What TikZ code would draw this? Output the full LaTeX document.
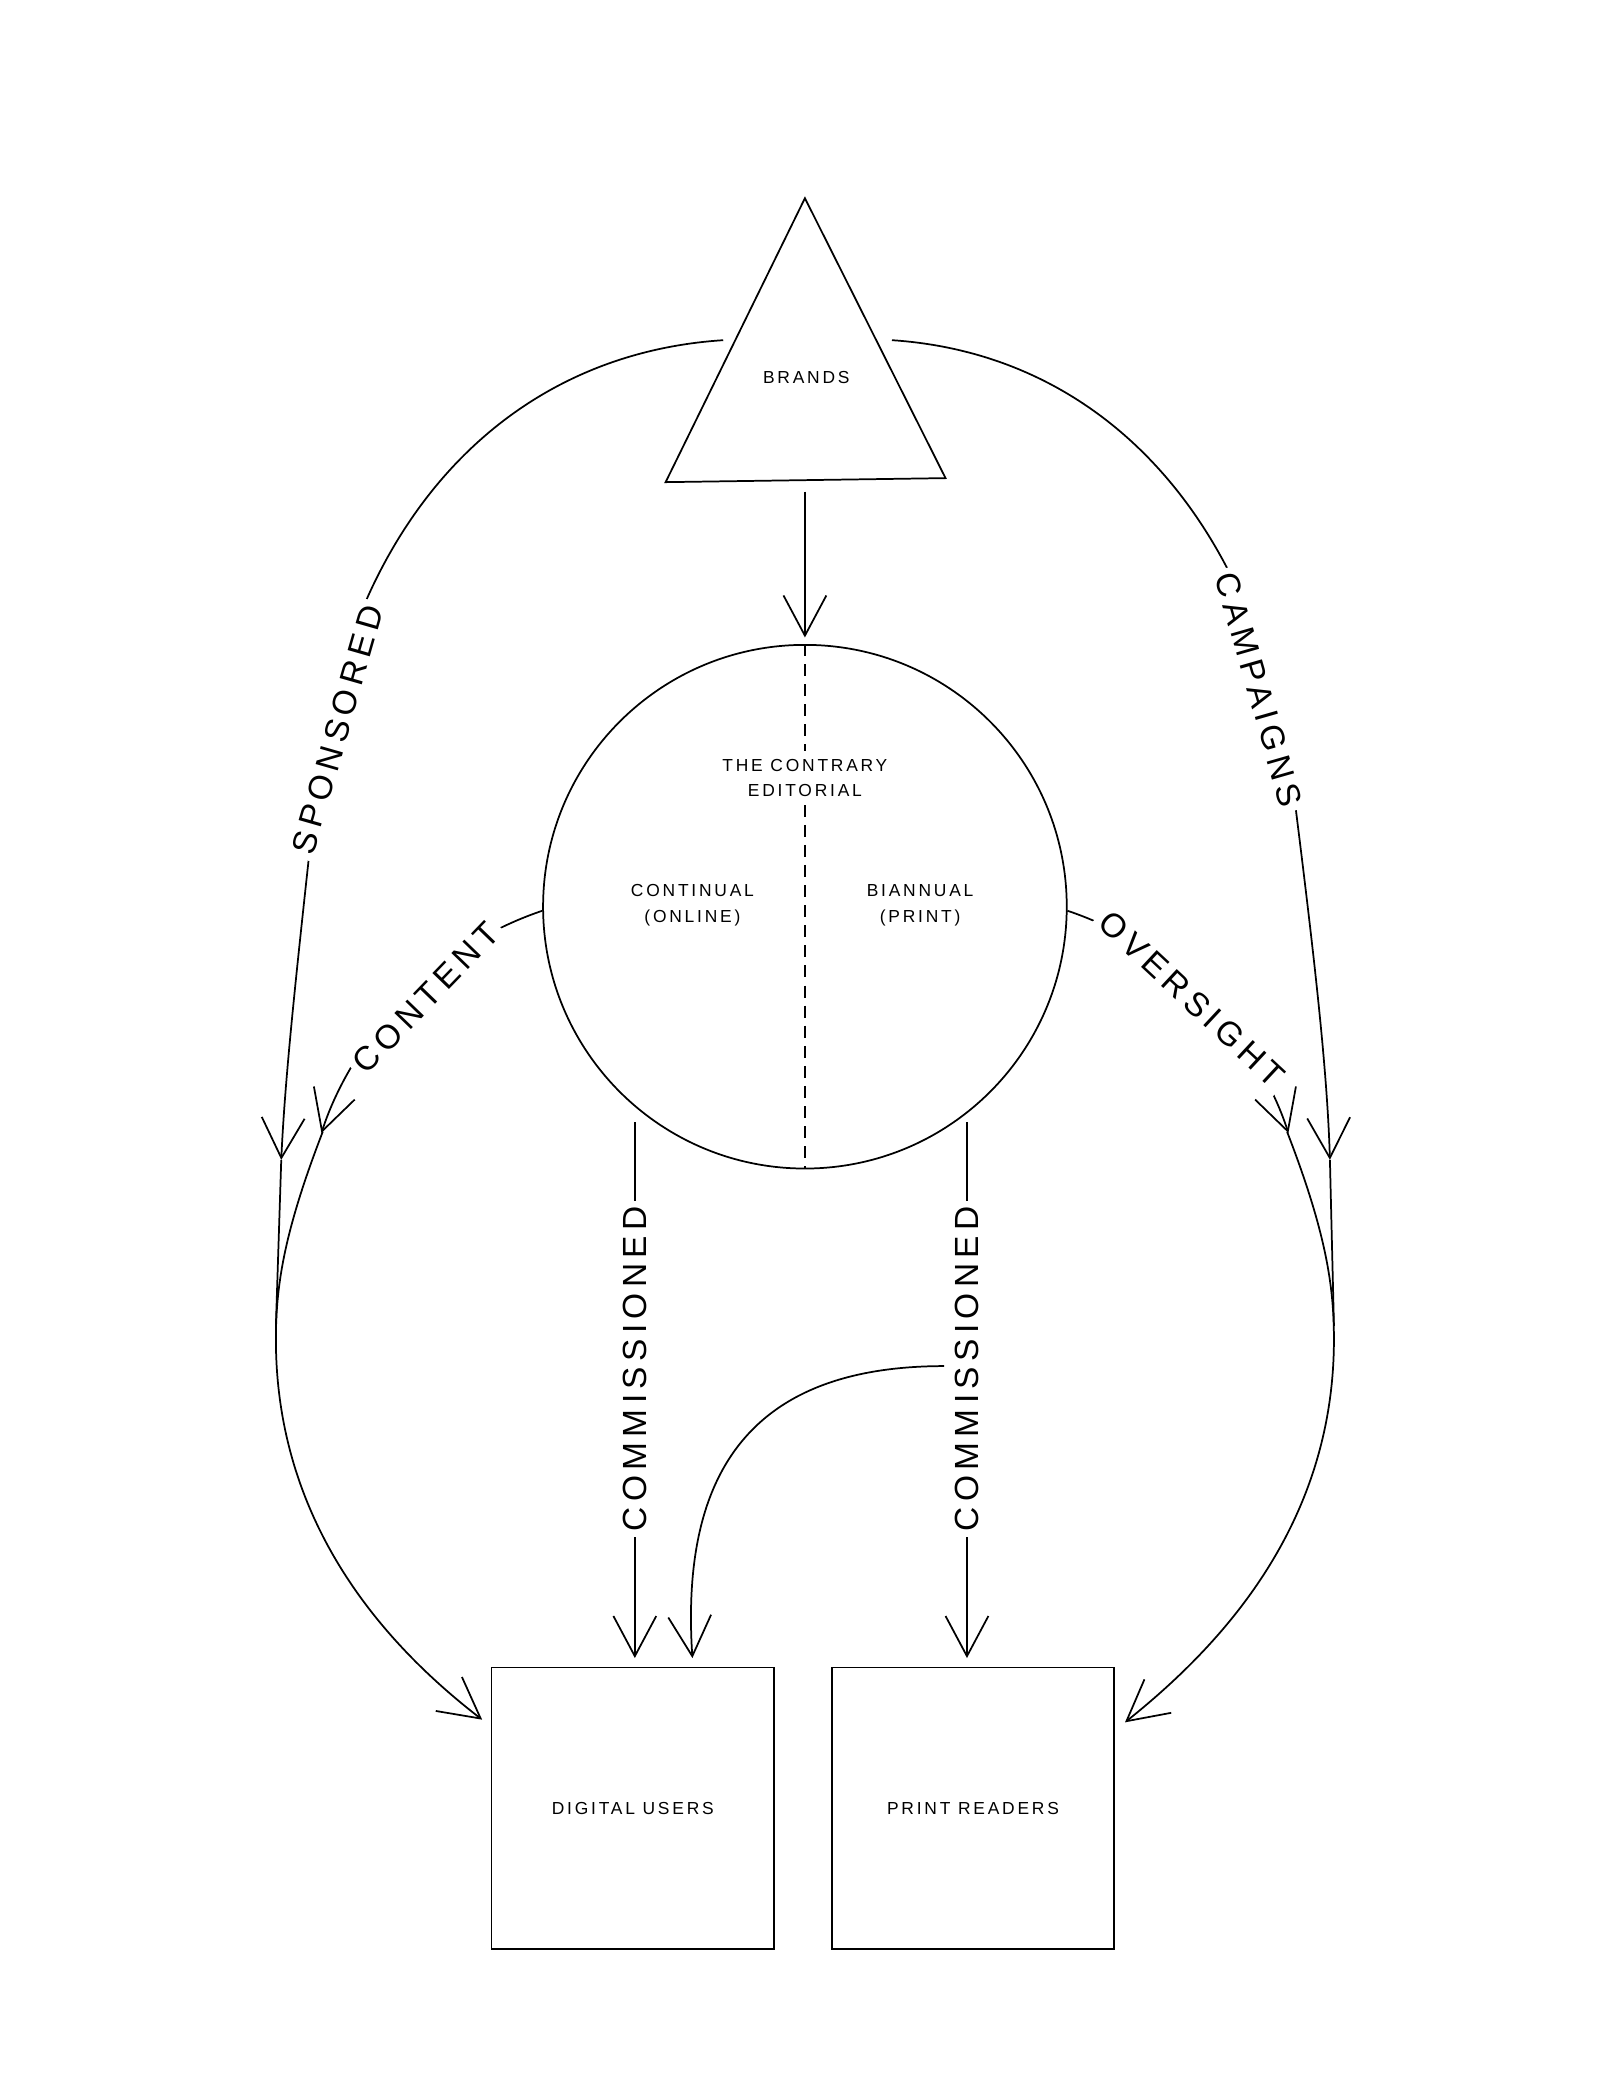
\documentclass[tikz,border=0pt]{standalone}
\usepackage{fontspec}
\setmainfont{Liberation Sans}[LetterSpace=16]
\usetikzlibrary{arrows.meta}
\begin{document}
\begin{tikzpicture}[x=1pt,y=-1pt,line width=1.3pt,
  arr/.style={-{Straight Barb[length=30pt,width=32pt,line width=1.3pt]}},
  small/.style={font=\fontsize{13}{19}\selectfont,align=center},
  big/.style={font=\fontsize{25}{28}\selectfont,fill=white,inner sep=4pt}]
\useasboundingbox (0,0) rectangle (1212,1568);
% triangle
\coordinate (ta) at (601,148);
\coordinate (tl) at (497,360);
\coordinate (tr) at (706,357);
\draw (ta) -- (tl) -- (tr) -- cycle;
\node[small] (brands) at (602,282) {BRANDS};
% circle
\node[circle,draw,minimum size=391pt,inner sep=0pt] (ed) at (601,677) {};
\draw[dash pattern=on 9pt off 6pt] (ed.north) -- (ed.south);
\node[small,fill=white,inner sep=6pt] (t1) at (601,581) {THE CONTRARY\\EDITORIAL};
\node[small] (t2) at (517,676) {CONTINUAL\\(ONLINE)};
\node[small] (t3) at (687,676) {BIANNUAL\\(PRINT)};
\coordinate (b1) at (601,367);
\coordinate (b2) at (601,476);
\draw[arr] (b1) -- (b2);
% boxes
\node[draw,minimum width=211pt,minimum height=210pt,small] (du) at (472.5,1350) {DIGITAL USERS};
\node[draw,minimum width=211pt,minimum height=210pt,small] (pr) at (726.5,1350) {PRINT READERS};
% left side
\coordinate (s0) at (540,254);
\coordinate (s1) at (235,600);
\coordinate (s2) at (210,866);
\coordinate (s3) at (206,990);
\draw[arr] (s0) .. controls (370,265) and (255,400) .. (s1) .. controls (222,720) and (213,800) .. (s2);
\draw (s2) -- (s3);
\coordinate (c0) at (405,680);
\coordinate (c1) at (240,846);
\draw[arr] (c0) .. controls (310,712) and (258,790) .. (c1);
\coordinate (d0) at (241,845);
\coordinate (d1) at (360,1284);
\draw[arr] (d0) .. controls (212,920) and (206,960) .. (206,1000) .. controls (206,1140) and (290,1230) .. (d1);
\node[big,rotate=74] (sp) at (252,545) {SPONSORED};
\node[big,rotate=46] (co) at (318,745) {CONTENT};
% right side
\coordinate (r0) at (666,254);
\coordinate (r1) at (967,600);
\coordinate (r2) at (993,866);
\coordinate (r3) at (996,990);
\draw[arr] (r0) .. controls (832,265) and (945,400) .. (r1) .. controls (982,720) and (991,800) .. (r2);
\draw (r2) -- (r3);
\coordinate (o0) at (797,680);
\coordinate (o1) at (962,846);
\draw[arr] (o0) .. controls (892,712) and (944,790) .. (o1);
\coordinate (e0) at (961,845);
\coordinate (e1) at (840,1286);
\draw[arr] (e0) .. controls (990,920) and (996,960) .. (996,1000) .. controls (996,1140) and (910,1230) .. (e1);
\node[big,rotate=-74] (ca) at (940,515) {CAMPAIGNS};
\node[big,rotate=-43] (ov) at (890,746) {OVERSIGHT};
% commissioned
\coordinate (m0) at (474,838);
\coordinate (m1) at (474,1238);
\draw[arr] (m0) -- (m1);
\node[big,rotate=90] (cm1) at (474,1022) {COMMISSIONED};
\coordinate (n0) at (722,838);
\coordinate (n1) at (722,1238);
\draw[arr] (n0) -- (n1);
\coordinate (q0) at (705,1020);
\coordinate (q1) at (517,1238);
\draw[arr] (q0) .. controls (560,1020) and (508,1100) .. (q1);
\node[big,rotate=90] (cm2) at (722,1022) {COMMISSIONED};
\end{tikzpicture}
\end{document}
